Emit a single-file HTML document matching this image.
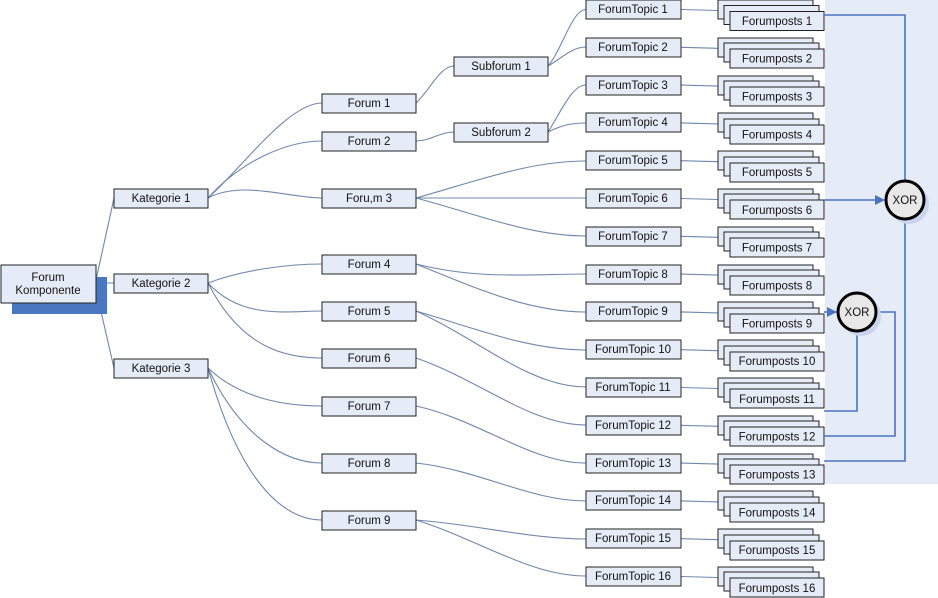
<!DOCTYPE html>
<html><head><meta charset="utf-8"><style>
html,body{margin:0;padding:0;background:#fff;}
svg{display:block;}
text{font-family:"Liberation Sans",Arial,sans-serif;font-size:11.5px;fill:#111;text-anchor:middle;}
.b{fill:#e6ecf7;stroke:#222;stroke-width:1;}
.e{fill:none;stroke:#6f88ad;stroke-width:1.1;}
.c{fill:none;stroke:#4a74c0;stroke-width:1.6;}
</style></head><body>
<svg width="938" height="598" viewBox="0 0 938 598" xmlns="http://www.w3.org/2000/svg">
<defs>
<marker id="ar" markerWidth="10" markerHeight="10" refX="9" refY="5" orient="auto" markerUnits="userSpaceOnUse"><path d="M0,0 L10,5 L0,10 z" fill="#4a74c0"/></marker>
</defs>
<rect x="825" y="0" width="113" height="484" fill="#e6ecf7"/>

<g class="e">
<path d="M96,280 L114,198"/><path d="M96,283 L114,283"/><path d="M96,290 L114,368"/>
<path d="M208,198 C242,168 288,103 322,103"/>
<path d="M208,198 C242,160 288,141 322,141"/>
<path d="M208,198 C242,180 288,198 322,198"/>
<path d="M208,283 C242,270 288,264 322,264"/>
<path d="M208,283 C242,320 288,311 322,311"/>
<path d="M208,283 C242,350 288,358 322,358"/>
<path d="M208,368 C242,400 288,406 322,406"/>
<path d="M208,368 C242,440 288,463 322,463"/>
<path d="M208,368 C242,490 288,520 322,520"/>
<path d="M416,103 C430,90 440,66 454,66"/>
<path d="M416,141 C430,141 440,132 454,132"/>
<path d="M548,66 C562,50 572,9.5 586,9.5"/>
<path d="M548,66 C562,58 572,47 586,47"/>
<path d="M548,132 C562,110 572,85 586,85"/>
<path d="M548,132 C562,125 572,123 586,123"/>
<path d="M416,198 C480,180 530,161 586,161"/>
<path d="M416,198 C480,198 530,198 586,198"/>
<path d="M416,198 C480,215 530,236 586,236"/>
<path d="M416,264 C480,280 530,274 586,274"/>
<path d="M416,264 C480,290 530,312 586,312"/>
<path d="M416,311 C480,330 530,350 586,350"/>
<path d="M416,311 C480,340 530,387 586,387"/>
<path d="M416,358 C480,380 530,425 586,425"/>
<path d="M416,406 C480,420 530,463 586,463"/>
<path d="M416,463 C480,470 530,501 586,501"/>
<path d="M416,520 C480,525 530,539 586,539"/>
<path d="M416,520 C480,540 530,576 586,576"/>
</g>
<g class="e">
<path d="M681,9.5 L718,10.5"/><path d="M681,47.3 L718,48.3"/><path d="M681,85.1 L718,86.1"/><path d="M681,122.9 L718,123.9"/>
<path d="M681,160.7 L718,161.7"/><path d="M681,198.5 L718,199.5"/><path d="M681,236.3 L718,237.3"/><path d="M681,274.1 L718,275.1"/>
<path d="M681,311.9 L718,312.9"/><path d="M681,349.7 L718,350.7"/><path d="M681,387.5 L718,388.5"/><path d="M681,425.3 L718,426.3"/>
<path d="M681,463.1 L718,464.1"/><path d="M681,500.9 L718,501.9"/><path d="M681,538.7 L718,539.7"/><path d="M681,576.5 L718,577.5"/>
</g>

<rect x="12" y="277" width="95" height="37" fill="#4a78c0"/>
<rect class="b" x="1" y="265" width="95" height="38"/>
<text x="48" y="281">Forum</text><text x="48" y="294">Komponente</text>

<rect class="b" x="114" y="189" width="94" height="19"/><text x="161" y="202">Kategorie 1</text>
<rect class="b" x="114" y="274" width="94" height="19"/><text x="161" y="287">Kategorie 2</text>
<rect class="b" x="114" y="359" width="94" height="19"/><text x="161" y="372">Kategorie 3</text>

<rect class="b" x="322" y="94" width="94" height="19"/><text x="369" y="107">Forum 1</text>
<rect class="b" x="322" y="132" width="94" height="19"/><text x="369" y="145">Forum 2</text>
<rect class="b" x="322" y="189" width="94" height="19"/><text x="369" y="202">Foru,m 3</text>
<rect class="b" x="322" y="255" width="94" height="19"/><text x="369" y="268">Forum 4</text>
<rect class="b" x="322" y="302" width="94" height="19"/><text x="369" y="315">Forum 5</text>
<rect class="b" x="322" y="349" width="94" height="19"/><text x="369" y="362">Forum 6</text>
<rect class="b" x="322" y="397" width="94" height="19"/><text x="369" y="410">Forum 7</text>
<rect class="b" x="322" y="454" width="94" height="19"/><text x="369" y="467">Forum 8</text>
<rect class="b" x="322" y="511" width="94" height="19"/><text x="369" y="524">Forum 9</text>

<rect class="b" x="454" y="57" width="94" height="19"/><text x="501" y="70">Subforum 1</text>
<rect class="b" x="454" y="123" width="94" height="19"/><text x="501" y="136">Subforum 2</text>

<g>
<rect class="b" x="586" y="0" width="95" height="19"/><text x="633" y="13">ForumTopic 1</text>
<rect class="b" x="586" y="38" width="95" height="19"/><text x="633" y="51">ForumTopic 2</text>
<rect class="b" x="586" y="76" width="95" height="19"/><text x="633" y="89">ForumTopic 3</text>
<rect class="b" x="586" y="113" width="95" height="19"/><text x="633" y="126">ForumTopic 4</text>
<rect class="b" x="586" y="151" width="95" height="19"/><text x="633" y="164">ForumTopic 5</text>
<rect class="b" x="586" y="189" width="95" height="19"/><text x="633" y="202">ForumTopic 6</text>
<rect class="b" x="586" y="227" width="95" height="19"/><text x="633" y="240">ForumTopic 7</text>
<rect class="b" x="586" y="265" width="95" height="19"/><text x="633" y="278">ForumTopic 8</text>
<rect class="b" x="586" y="302" width="95" height="19"/><text x="633" y="315">ForumTopic 9</text>
<rect class="b" x="586" y="340" width="95" height="19"/><text x="633" y="353">ForumTopic 10</text>
<rect class="b" x="586" y="378" width="95" height="19"/><text x="633" y="391">ForumTopic 11</text>
<rect class="b" x="586" y="416" width="95" height="19"/><text x="633" y="429">ForumTopic 12</text>
<rect class="b" x="586" y="454" width="95" height="19"/><text x="633" y="467">ForumTopic 13</text>
<rect class="b" x="586" y="491" width="95" height="19"/><text x="633" y="504">ForumTopic 14</text>
<rect class="b" x="586" y="529" width="95" height="19"/><text x="633" y="542">ForumTopic 15</text>
<rect class="b" x="586" y="567" width="95" height="19"/><text x="633" y="580">ForumTopic 16</text>
</g>

<g>
<rect class="b" x="718" y="0" width="95" height="19"/><rect class="b" x="724" y="5.5" width="95" height="19"/><rect class="b" x="730" y="11.5" width="94" height="19"/><text x="777" y="25">Forumposts 1</text>
<rect class="b" x="718" y="38" width="95" height="19"/><rect class="b" x="724" y="43" width="95" height="19"/><rect class="b" x="730" y="49" width="94" height="19"/><text x="777" y="62.5">Forumposts 2</text>
<rect class="b" x="718" y="76" width="95" height="19"/><rect class="b" x="724" y="81" width="95" height="19"/><rect class="b" x="730" y="87" width="94" height="19"/><text x="777" y="100.5">Forumposts 3</text>
<rect class="b" x="718" y="113" width="95" height="19"/><rect class="b" x="724" y="119" width="95" height="19"/><rect class="b" x="730" y="125" width="94" height="19"/><text x="777" y="138.5">Forumposts 4</text>
<rect class="b" x="718" y="151" width="95" height="19"/><rect class="b" x="724" y="157" width="95" height="19"/><rect class="b" x="730" y="163" width="94" height="19"/><text x="777" y="176">Forumposts 5</text>
<rect class="b" x="718" y="189" width="95" height="19"/><rect class="b" x="724" y="194" width="95" height="19"/><rect class="b" x="730" y="200" width="94" height="19"/><text x="777" y="214">Forumposts 6</text>
<rect class="b" x="718" y="227" width="95" height="19"/><rect class="b" x="724" y="232" width="95" height="19"/><rect class="b" x="730" y="238" width="94" height="19"/><text x="777" y="251.5">Forumposts 7</text>
<rect class="b" x="718" y="265" width="95" height="19"/><rect class="b" x="724" y="270" width="95" height="19"/><rect class="b" x="730" y="276" width="94" height="19"/><text x="777" y="289.5">Forumposts 8</text>
<rect class="b" x="718" y="302" width="95" height="19"/><rect class="b" x="724" y="308" width="95" height="19"/><rect class="b" x="730" y="314" width="94" height="19"/><text x="777" y="327.5">Forumposts 9</text>
<rect class="b" x="718" y="340" width="95" height="19"/><rect class="b" x="724" y="346" width="95" height="19"/><rect class="b" x="730" y="352" width="94" height="19"/><text x="777" y="365">Forumposts 10</text>
<rect class="b" x="718" y="378" width="95" height="19"/><rect class="b" x="724" y="383" width="95" height="19"/><rect class="b" x="730" y="389" width="94" height="19"/><text x="777" y="403">Forumposts 11</text>
<rect class="b" x="718" y="416" width="95" height="19"/><rect class="b" x="724" y="421" width="95" height="19"/><rect class="b" x="730" y="427" width="94" height="19"/><text x="777" y="440.5">Forumposts 12</text>
<rect class="b" x="718" y="454" width="95" height="19"/><rect class="b" x="724" y="459" width="95" height="19"/><rect class="b" x="730" y="465" width="94" height="19"/><text x="777" y="478.5">Forumposts 13</text>
<rect class="b" x="718" y="491" width="95" height="19"/><rect class="b" x="724" y="497" width="95" height="19"/><rect class="b" x="730" y="503" width="94" height="19"/><text x="777" y="516.5">Forumposts 14</text>
<rect class="b" x="718" y="529" width="95" height="19"/><rect class="b" x="724" y="535" width="95" height="19"/><rect class="b" x="730" y="541" width="94" height="19"/><text x="777" y="554">Forumposts 15</text>
<rect class="b" x="718" y="567" width="95" height="19"/><rect class="b" x="724" y="572" width="95" height="19"/><rect class="b" x="730" y="578" width="94" height="19"/><text x="777" y="592">Forumposts 16</text>
</g>

<path class="c" d="M824,15 L905,15 L905,180"/>
<path class="c" d="M824,200 L884,200" marker-end="url(#ar)"/>
<path class="c" d="M905,220 L905,461 L824,461"/>
<path class="c" d="M824,312 L836,312" marker-end="url(#ar)"/>
<path class="c" d="M857,332 L857,411 L824,411"/>
<path class="c" d="M877,312 L895,312 L895,436 L824,436"/>

<circle cx="909" cy="204" r="20" fill="#c9d5ec"/>
<circle cx="905" cy="200" r="19" fill="#e8e8e8" stroke="#000" stroke-width="3"/>
<text x="905" y="204">XOR</text>
<circle cx="861" cy="316" r="20" fill="#c9d5ec"/>
<circle cx="857" cy="312" r="19" fill="#e8e8e8" stroke="#000" stroke-width="3"/>
<text x="857" y="316">XOR</text>
</svg>
</body></html>
